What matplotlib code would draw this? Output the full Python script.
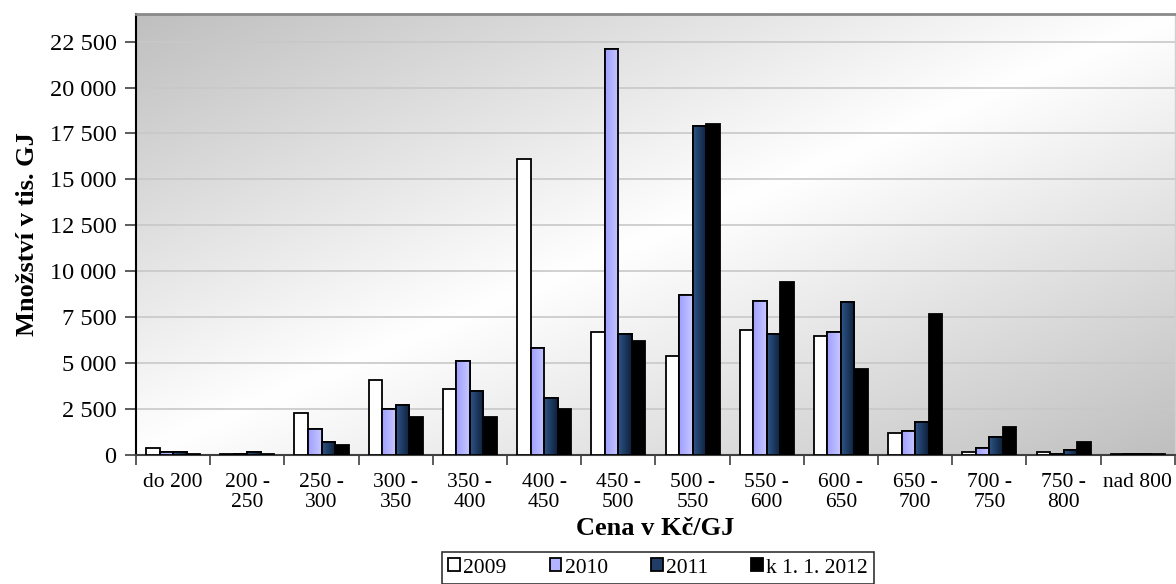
import numpy as np
import matplotlib
matplotlib.use("Agg")
import matplotlib.pyplot as plt
from matplotlib.colors import LinearSegmentedColormap
from matplotlib.ticker import FuncFormatter, FixedLocator, NullFormatter

categories = ["do 200", "200 -\n250", "250 -\n300", "300 -\n350", "350 -\n400",
              "400 -\n450", "450 -\n500", "500 -\n550", "550 -\n600", "600 -\n650",
              "650 -\n700", "700 -\n750", "750 -\n800", "nad 800"]
series_names = ["2009", "2010", "2011", "k 1. 1. 2012"]
v2009 = [400, 50, 2300, 4100, 3600, 16100, 6700, 5400, 6800, 6500, 1200, 150, 150, 50]
v2010 = [150, 80, 1400, 2500, 5100, 5800, 22100, 8700, 8400, 6700, 1300, 400, 80, 50]
v2011 = [150, 150, 700, 2700, 3500, 3100, 6600, 17900, 6600, 8300, 1800, 1000, 250, 50]
v2012 = [30, 30, 550, 2050, 2050, 2500, 6200, 18000, 9400, 4700, 7700, 1500, 700, 50]
yticks = [0, 2500, 5000, 7500, 10000, 12500, 15000, 17500, 20000, 22500]

plt.rcParams['font.family'] = ['Liberation Serif', 'DejaVu Serif']

fig = plt.figure(figsize=(11.76, 5.84), dpi=100)
ax = fig.add_axes([136/1176, 1-455/584, 1-136/1176-0.001, (455-14)/584])

# background gradient
H, W = 200, 400
yy, xx = np.mgrid[0:1:H*1j, 0:1:W*1j]
t = (xx + yy) / 2.0
val = np.abs(t - 0.5) * 2
bgcmap = LinearSegmentedColormap.from_list("bg", ["#ffffff", "#bfbfbf"])
ax.imshow(val, cmap=bgcmap, extent=(0, 1, 0, 1), transform=ax.transAxes,
          aspect='auto', zorder=0, interpolation='bilinear', vmin=0, vmax=1)

n = len(categories)
x = np.arange(n)
bw = 0.182
offsets = [-1.5, -0.5, 0.5, 1.5]
data = [v2009, v2010, v2011, v2012]
colors = ["#ffffff", "#b3b3ff", "#1f3d66", "#000000"]
grads = [None,
         LinearSegmentedColormap.from_list("g1", ["#9f9fff", "#c8c8ff"]),
         LinearSegmentedColormap.from_list("g2", ["#2e5588", "#0d1f3a"]),
         None]
handles = []
for vals, off, col, g, name in zip(data, offsets, colors, grads, series_names):
    bars = ax.bar(x + off * bw, vals, bw, color=col, edgecolor="black",
                  linewidth=1.3, zorder=3, label=name)
    handles.append(bars)
    if g is not None:
        grad = np.linspace(0, 1, 64).reshape(1, -1)
        for b in bars:
            bx, by = b.get_x(), b.get_y()
            im = ax.imshow(grad, cmap=g, extent=(bx, bx + b.get_width(), by, by + b.get_height()),
                           aspect='auto', zorder=3.5, interpolation='bilinear')
            im.set_clip_path(b)
            ax.bar(bx + b.get_width()/2, b.get_height(), b.get_width(),
                   color='none', edgecolor='black', linewidth=1.3, zorder=4)

ax.set_xlim(-0.5, n - 0.5)
ax.set_ylim(0, 24000)
ax.set_yticks(yticks)
ax.yaxis.set_major_formatter(FuncFormatter(lambda v, p: f"{int(v):,}".replace(",", " ")))
ax.grid(axis='y', color='#c8c8c8', linewidth=1.2, zorder=1)
ax.set_axisbelow(True)

ax.set_xticks(x)
ax.set_xticklabels(categories, fontsize=15.5, linespacing=1.1)
ax.tick_params(axis='x', length=0, pad=13)
ax.xaxis.set_minor_locator(FixedLocator(np.arange(-0.5, n, 1.0)))
ax.xaxis.set_minor_formatter(NullFormatter())
ax.tick_params(axis='x', which='minor', length=7, width=1.2, color='#404040')
ax.tick_params(axis='y', labelsize=17.5, length=8, width=1.2, color='#404040', pad=6)

ax.spines['left'].set_color('black')
ax.spines['left'].set_linewidth(1.5)
ax.spines['bottom'].set_color('#404040')
ax.spines['bottom'].set_linewidth(1.5)
ax.spines['top'].set_color('#8a8a8a')
ax.spines['top'].set_linewidth(2)
ax.spines['right'].set_color('#d0d0d0')
ax.spines['right'].set_linewidth(1)

ax.set_ylabel("Množství v tis. GJ", fontsize=19, fontweight='bold', labelpad=8)
ax.set_xlabel("Cena v Kč/GJ", fontsize=19, fontweight='bold', labelpad=3)

leg = fig.legend(handles=handles, labels=series_names, loc='upper center',
                 bbox_to_anchor=(658/1176, 1-552/584), ncol=4, fontsize=15.5,
                 frameon=True, fancybox=False, edgecolor='black',
                 handlelength=0.55, handleheight=0.55, handletextpad=0.15,
                 columnspacing=2.0, borderpad=0.3, borderaxespad=0)
leg.get_frame().set_linewidth(1.2)

fig.savefig("out.png", dpi=100)
